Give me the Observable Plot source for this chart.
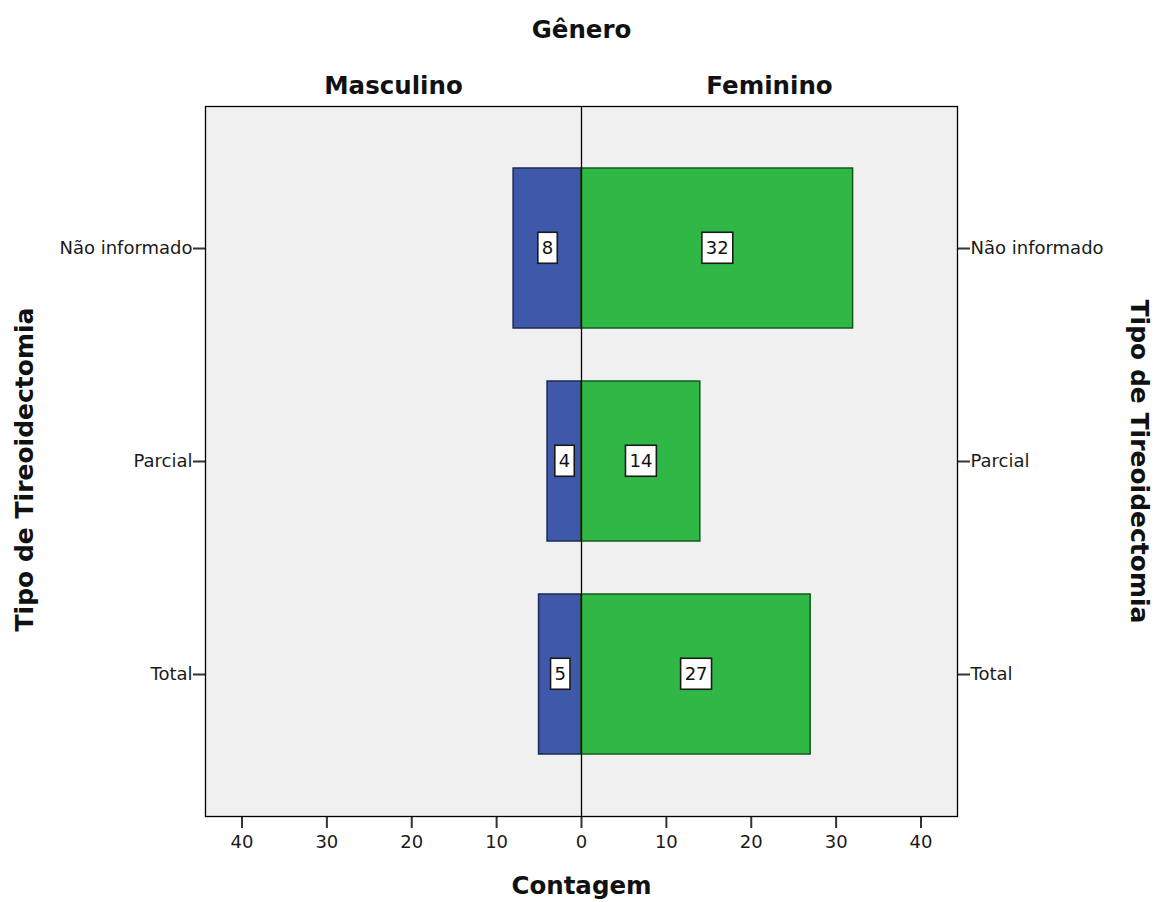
<!DOCTYPE html>
<html>
<head>
<meta charset="utf-8">
<script src="https://cdn.jsdelivr.net/npm/d3@7"></script>
<script src="https://cdn.jsdelivr.net/npm/@observablehq/plot@0.6"></script>
<style>
  html, body { margin: 0; padding: 0; background: #ffffff; }
  svg { display: block; }
</style>
</head>
<body>
<script>
// ---- data ----
const categories = ["Não informado", "Parcial", "Total"];
const masculino = [8, 4, 5];
const feminino = [32, 14, 27];
const xTicks = [-40, -30, -20, -10, 0, 10, 20, 30, 40];
const groupLabels = ["Masculino", "Feminino"];
const title = "Gênero";
const xTitle = "Contagem";
const yTitle = "Tipo de Tireoidectomia";

const xMax = 44.3;
const rows = categories.map((c, i) => ({cat: c, m: masculino[i], f: feminino[i]}));
const labels = [
  ...rows.map(d => ({cat: d.cat, x: -d.m / 2, v: d.m})),
  ...rows.map(d => ({cat: d.cat, x: d.f / 2, v: d.f}))
];

const titleFont = {fontFamily: "DejaVu Sans", fontWeight: "bold", fontSize: 24.5, fill: "#111"};
const yTitleFont = {fontFamily: "DejaVu Sans", fontWeight: "bold", fontSize: 25, fill: "#111", textAnchor: "middle"};

const chart = Plot.plot({
  width: 1157,
  height: 902,
  marginLeft: 205,
  marginRight: 200,
  marginTop: 106,
  marginBottom: 86,
  style: {fontFamily: "DejaVu Sans", fontSize: "18px", color: "#1a1a1a", background: "#ffffff"},
  x: {domain: [-xMax, xMax], ticks: xTicks, tickFormat: d => Math.abs(d), tickSize: 12, tickPadding: 7, label: null},
  y: {domain: categories, paddingInner: 0.25, paddingOuter: 0.2875, axis: "both", tickSize: 12, tickPadding: 1, label: null},
  marks: [
    Plot.frame({fill: "#f0f0f0"}),
    Plot.text(labels, {x: "x", y: "cat", text: d => String(d.v), fontSize: 18, fill: "#111"}),
    Plot.barX(rows, {y: "cat", x1: 0, x2: d => -d.m, fill: "#3f58aa", stroke: "#1c2a55", strokeWidth: 1.5}),
    Plot.barX(rows, {y: "cat", x1: 0, x2: d => d.f, fill: "#2fb845", stroke: "#145a20", strokeWidth: 1.5}),
    Plot.ruleX([0], {stroke: "#000", strokeWidth: 1.3}),
    Plot.frame({stroke: "#000", strokeWidth: 1.3}),
    Plot.text([title], {frameAnchor: "top", dy: -86, text: d => d, ...titleFont}),
    Plot.text(groupLabels, {x: (d, i) => (i === 0 ? -xMax / 2 : xMax / 2), frameAnchor: "top", dy: -30, text: d => d, ...titleFont}),
    Plot.text([xTitle], {frameAnchor: "bottom", dy: 77, text: d => d, ...titleFont}),
    Plot.text([yTitle], {frameAnchor: "left", dx: -181, dy: 8, rotate: -90, text: d => d, ...yTitleFont}),
    Plot.text([yTitle], {frameAnchor: "right", dx: 181, rotate: 90, text: d => d, ...yTitleFont})
  ]
});

document.body.append(chart);

// the first text mark holds the counts: move it above the bars and give each a white box
const svg = d3.select(chart);
const countsG = svg.select('g[aria-label="text"]');
countsG.raise();
svg.selectAll('[aria-label="frame"]').filter((d, i, n) => i === n.length - 1).raise();
countsG.selectAll('text').each(function() {
  const b = this.getBBox();
  const r = document.createElementNS("http://www.w3.org/2000/svg", "rect");
  const padX = 4, padY = 6;
  r.setAttribute("x", b.x - padX);
  r.setAttribute("y", b.y - padY + 1);
  r.setAttribute("width", b.width + 2 * padX);
  r.setAttribute("height", b.height + 2 * padY - 2);
  r.setAttribute("fill", "#ffffff");
  r.setAttribute("stroke", "#1a1a1a");
  r.setAttribute("stroke-width", "1.6");
  const t = this.getAttribute("transform");
  if (t) r.setAttribute("transform", t);
  this.parentNode.insertBefore(r, this);
});

// thicker tick marks
svg.selectAll('g[aria-label$="tick"] path').attr("stroke-width", 2).attr("stroke", "#333");
</script>
</body>
</html>
